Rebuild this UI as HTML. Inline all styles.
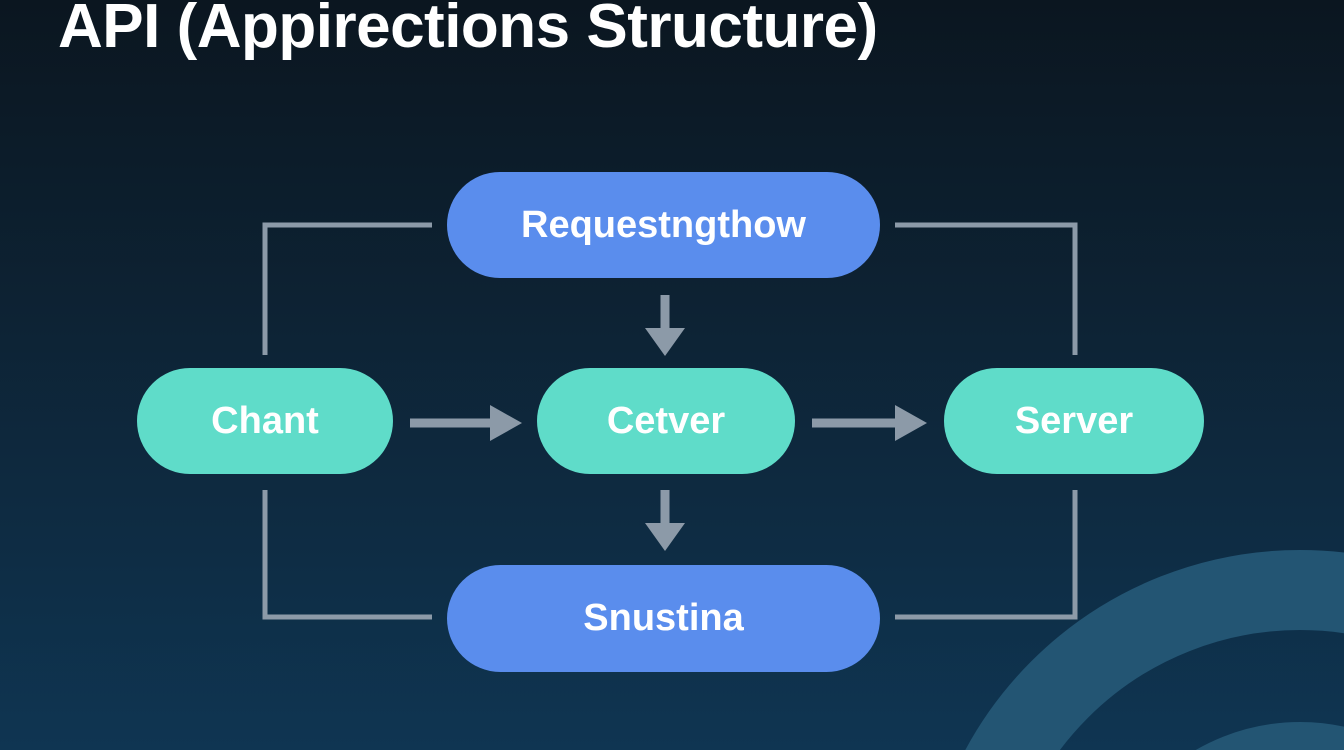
<!DOCTYPE html>
<html><head><style>
html,body{margin:0;width:1344px;height:750px;overflow:hidden}
body{background:linear-gradient(180deg,#0b1620 0%,#0d2233 40%,#0f3552 100%);font-family:"Liberation Sans",sans-serif;position:relative}
.t{position:absolute;left:58px;top:-8px;font-size:62px;line-height:70px;font-weight:bold;color:#fff;letter-spacing:-0.5px;white-space:nowrap}
.p{position:absolute;border-radius:54px;display:flex;align-items:center;justify-content:center;color:#fff;font-weight:bold;font-size:38px}
.b{background:#5a8ded}.g{background:#5fdcc9}
</style></head><body>
<svg width="1344" height="750" style="position:absolute;left:0;top:0;display:block">
<circle cx="1300" cy="930" r="340" fill="none" stroke="#235573" stroke-width="80"/>
<circle cx="1300" cy="930" r="170" fill="none" stroke="#235573" stroke-width="76"/>
<g stroke="#8c9aa8" stroke-width="5" fill="none">
<polyline points="265,355 265,225 432,225"/>
<polyline points="895,225 1075,225 1075,355"/>
<polyline points="265,490 265,617 432,617"/>
<polyline points="895,617 1075,617 1075,490"/>
<line x1="410" y1="423" x2="495" y2="423" stroke-width="9"/>
<line x1="812" y1="423" x2="900" y2="423" stroke-width="9"/>
<line x1="665" y1="295" x2="665" y2="335" stroke-width="9"/>
<line x1="665" y1="490" x2="665" y2="530" stroke-width="9"/>
</g>
<g fill="#8c9aa8">
<polygon points="490,405 522,423 490,441"/>
<polygon points="895,405 927,423 895,441"/>
<polygon points="645,328 685,328 665,356"/>
<polygon points="645,523 685,523 665,551"/>
</g>
</svg>
<div class="t">API (Appirections Structure)</div>
<div class="p b" style="left:447px;top:172px;width:433px;height:106px">Requestngthow</div>
<div class="p g" style="left:137px;top:368px;width:256px;height:106px">Chant</div>
<div class="p g" style="left:537px;top:368px;width:258px;height:106px">Cetver</div>
<div class="p g" style="left:944px;top:368px;width:260px;height:106px">Server</div>
<div class="p b" style="left:447px;top:565px;width:433px;height:107px">Snustina</div>
</body></html>
